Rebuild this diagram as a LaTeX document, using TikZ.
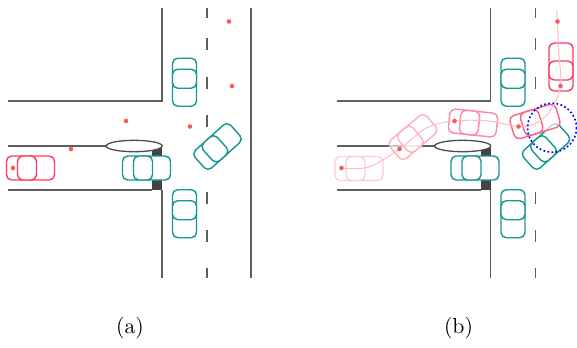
\documentclass[tikz,border=0pt]{standalone}
\definecolor{carteal}{RGB}{20,150,145}
\definecolor{carred}{RGB}{250,60,100}
\definecolor{dotred}{RGB}{250,90,90}
\definecolor{roadgray}{RGB}{95,95,95}
\definecolor{blockgray}{RGB}{68,68,68}
\tikzset{
  vehicle/.pic={
    \path[pic actions, rounded corners=2.4pt] (-24,-12) rectangle (24,12);
    \path[pic actions, rounded corners=2.4pt] (-13,-12) rectangle (6,12);
  },
  road/.style={draw=roadgray, line width=0.6pt},
  lane/.style={draw=roadgray, line width=0.6pt},
  kerb/.style={draw=roadgray!80!black, line width=0.6pt, fill=white},
  tealcar/.style={draw=carteal, fill=white, line width=0.65pt},
  redcar/.style={draw=carred, fill=white, line width=0.65pt},
  fadedcar/.style={draw=carred!#1, fill=white, fill opacity=0.65, line width=0.65pt},
  waypoint/.style={fill=dotred},
  trail/.style={draw=carred!35, line width=0.45pt},
  riskzone/.style={draw=blue, line width=0.75pt, dash pattern=on 0.8pt off 1.1pt},
}
% T-junction with the parked obstacle at the mouth of the side road
\newcommand\drawjunction{%
  \draw[road] (8,101) -- (162,101) -- (162,8);
  \draw[road] (162,190) -- (162,278);
  \draw[road] (8,146) -- (106,146);
  \draw[road] (8,190) -- (152,190);
  \draw[road] (251,8) -- (251,278);
  \fill[blockgray] (152,146) rectangle (162,190);
  \draw[kerb] (134.2,146) ellipse [x radius=28, y radius=5.7];
  \foreach \a/\b in {8/18, 38.3/50.3, 76.6/88.6, 115/127, 153.3/165.3, 191.6/203.6, 230/242, 268.3/278}
    \draw[lane] (207,\a) -- (207,\b);
}
% cars that stay in place in both scenes
\newcommand\drawtraffic{%
  \pic[tealcar, rotate=-90] (up) at (184.5,82.2) {vehicle};
  \pic[tealcar, rotate=-90] (down) at (184.5,213.7) {vehicle};
  \pic[tealcar] (wait) at (146.5,168) {vehicle};
  \pic[tealcar, rotate=42] (turn) at (217.5,146.5) {vehicle};
}
\newcommand\drawwaypoints{%
  \foreach \p in {(13,168), (71,149), (126,121), (190,126.5), (232,86), (229,21.5)}
    \fill[waypoint] \p circle [radius=2.3];
}
\begin{document}
\begin{tikzpicture}[x=0.46pt, y=-0.46pt]
  \useasboundingbox (0,0) rectangle (577,347);
  \clip (0,0) rectangle (577,347);

  % scene (a)
  \drawjunction
  \drawtraffic
  \pic[redcar] (ego) at (30.5,168) {vehicle};
  \drawwaypoints
  \node (la) at (130,328) {(a)};

  % scene (b)
  \begin{scope}[shift={(328.5,0)}]
    \drawjunction
    \drawtraffic
    \pic[fadedcar=25] (e1) at (30.5,168.5) {vehicle};
    \pic[fadedcar=40, rotate=40] (e2) at (84.5,137) {vehicle};
    \pic[fadedcar=60, rotate=-6] (e3) at (144.5,123) {vehicle};
    \pic[fadedcar=80, rotate=17] (e4) at (206.5,121.5) {vehicle};
    \pic[redcar, fill opacity=0.65, rotate=90] (e5) at (232.5,67) {vehicle};
    \draw[trail] plot[smooth, tension=0.6] coordinates {
      (13,168) (40,167) (71,149) (98,128) (126,121) (160,121)
      (190,126.5) (208,123) (222,110) (232,86) (230,50) (229,21.5) (228,11)};
    \drawwaypoints
    \draw[riskzone] (223.5,127.7) circle [radius=24.5];
  \end{scope}
  \node (lb) at (458.5,328) {(b)};
\end{tikzpicture}
\end{document}
